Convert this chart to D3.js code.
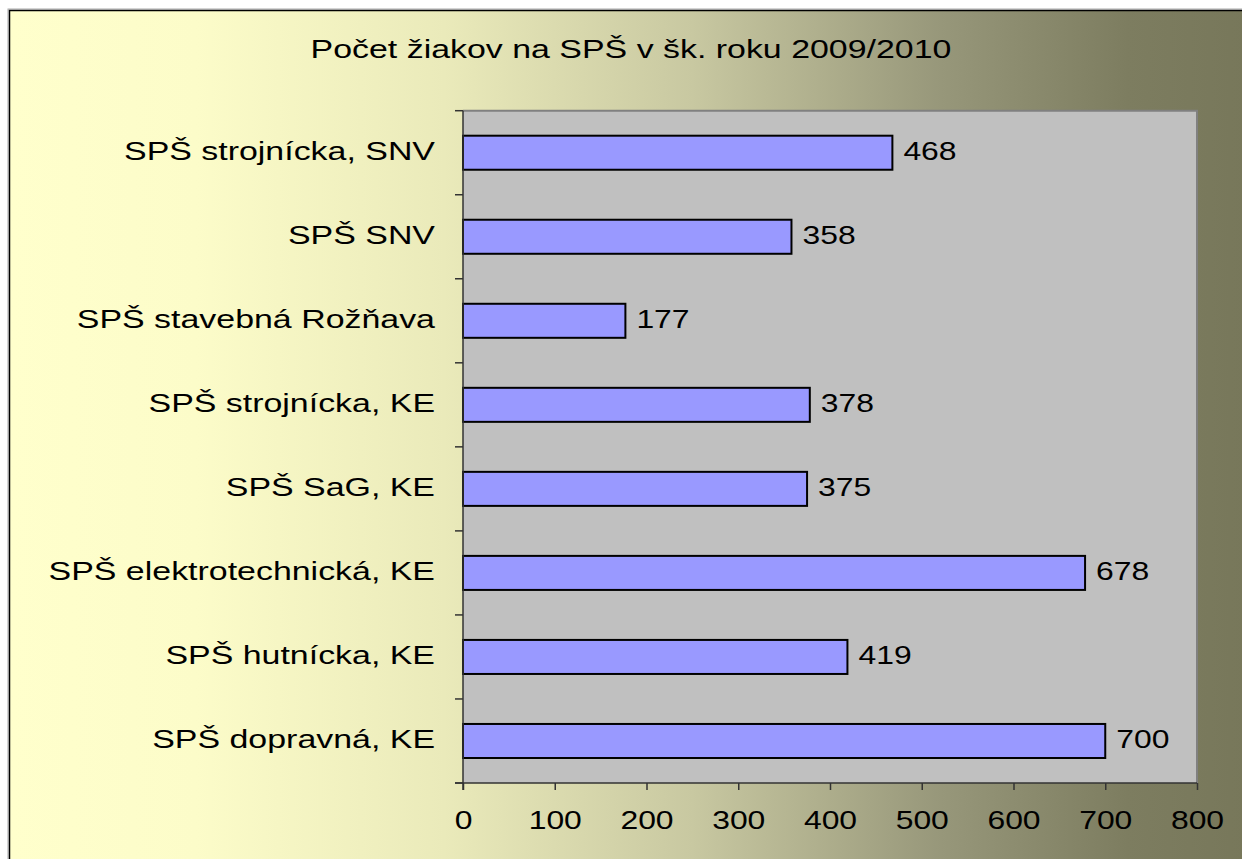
<!DOCTYPE html>
<html>

<head>
    <meta charset="utf-8">
    <style>
        body {
            margin: 0;
            background: #fff;
        }

        svg {
            display: block;
            font-family: 'Liberation Sans', Arial, sans-serif;
        }
    </style>
</head>

<body>
    <svg width="1242" height="859"></svg>

    <script src="https://d3js.org/d3.v7.min.js"></script>
    <script>
        // data (top to bottom)
        let schools = [
            "SPŠ strojnícka, SNV",
            "SPŠ SNV",
            "SPŠ stavebná Rožňava",
            "SPŠ strojnícka, KE",
            "SPŠ SaG, KE",
            "SPŠ elektrotechnická, KE",
            "SPŠ hutnícka, KE",
            "SPŠ dopravná, KE"
        ]
        let pupils = [468, 358, 177, 378, 375, 678, 419, 700]
        let xTicks = [0, 100, 200, 300, 400, 500, 600, 700, 800]
        let title = "Počet žiakov na SPŠ v šk. roku 2009/2010"

        let width = 1242;
        let height = 859;

        let plot = { left: 463, right: 1197, top: 110.7, bottom: 783 }
        let fontSize = 25.5
        let stretch = 1.33    // the original text is drawn wider than normal
        let numStretch = 1.25

        let svg = d3.select("svg")

        // background gradient
        let defs = svg.append("defs")
        let grad = defs.append("linearGradient")
            .attr("id", "bg")
            .attr("x1", "0%").attr("x2", "100%")
            .attr("y1", "0%").attr("y2", "0%")

        let stops = [
            [0, "#FFFFCC"],
            [0.15, "#FCFCC9"],
            [0.35, "#EAEABA"],
            [0.55, "#C8C8A1"],
            [0.75, "#97977A"],
            [0.9, "#7D7D60"],
            [1, "#77775A"]
        ]
        grad.selectAll("stop")
            .data(stops)
            .join("stop")
            .attr("offset", d => d[0])
            .attr("stop-color", d => d[1])

        svg.append("rect")
            .attr("x", 8).attr("y", 9)
            .attr("width", width).attr("height", height)
            .style("fill", "none")
            .style("stroke", "#aaa")
            .style("stroke-width", 1)

        svg.append("rect")
            .attr("x", 9.5).attr("y", 10.5)
            .attr("width", width).attr("height", height)
            .style("fill", "url(#bg)")
            .style("stroke", "#000")
            .style("stroke-width", 1.5)

        // scales
        let x = d3.scaleLinear()
            .domain([0, 800])
            .range([plot.left, plot.right])

        let y = d3.scaleBand()
            .domain(schools)
            .range([plot.top, plot.bottom])

        let barH = y.bandwidth() * 0.405

        // plot area
        svg.append("rect")
            .attr("x", plot.left)
            .attr("y", plot.top)
            .attr("width", plot.right - plot.left)
            .attr("height", plot.bottom - plot.top)
            .style("fill", "#C0C0C0")

        // gray border top + right
        svg.append("path")
            .attr("d", `M${plot.left},${plot.top}H${plot.right}V${plot.bottom}`)
            .style("fill", "none")
            .style("stroke", "#808080")
            .style("stroke-width", 2)

        // bars
        svg.selectAll(".bar")
            .data(pupils)
            .join("rect")
            .attr("class", "bar")
            .attr("x", x(0))
            .attr("y", (d, i) => y(schools[i]) + (y.bandwidth() - barH) / 2)
            .attr("width", d => x(d) - x(0))
            .attr("height", barH)
            .style("fill", "#9999FF")
            .style("stroke", "#000")
            .style("stroke-width", 2)

        // value labels
        svg.selectAll(".val")
            .data(pupils)
            .join("text")
            .attr("class", "val")
            .attr("transform", (d, i) => `translate(${x(d) + 11},${y(schools[i]) + y.bandwidth() / 2 + 7}) scale(${numStretch},1)`)
            .style("font-size", fontSize + "px")
            .style("fill", "#000")
            .text(d => d)

        // axes
        let xAxis = svg.append("g")
            .attr("transform", `translate(0,${plot.bottom})`)
            .call(d3.axisBottom(x).tickValues(xTicks).tickSize(7).tickFormat(d3.format("d")))

        let yAxis = svg.append("g")
            .attr("transform", `translate(${plot.left},0)`)
            .call(d3.axisLeft(y).tickSize(0).tickFormat(""))

        // y ticks sit between the categories
        let bounds = schools.map(s => y(s)).concat([plot.bottom])
        svg.selectAll(".ytick")
            .data(bounds)
            .join("line")
            .attr("class", "ytick")
            .attr("x1", plot.left - 8)
            .attr("x2", plot.left)
            .attr("y1", d => d)
            .attr("y2", d => d)
            .style("stroke", "#333")
            .style("stroke-width", 1.5)

        xAxis.select(".domain")
            .attr("d", `M${plot.left - 8},0H${plot.right}`)
            .style("stroke", "#333")
            .style("stroke-width", 1.5)
        xAxis.selectAll(".tick line")
            .style("stroke", "#333")
            .style("stroke-width", 1.5)
        xAxis.selectAll(".tick text")
            .attr("y", 0)
            .attr("dy", 0)
            .attr("transform", `translate(0,46) scale(${numStretch},1)`)
            .style("font-size", fontSize + "px")
            .style("font-family", "'Liberation Sans', Arial, sans-serif")
            .style("fill", "#000")

        yAxis.select(".domain")
            .attr("d", `M0,${plot.top}V${plot.bottom + 7}`)
            .style("stroke", "#333")
            .style("stroke-width", 1.5)

        // category labels
        svg.selectAll(".cat")
            .data(schools)
            .join("text")
            .attr("class", "cat")
            .attr("text-anchor", "end")
            .attr("transform", d => `translate(435,${y(d) + y.bandwidth() / 2 + 7.5}) scale(${stretch},1)`)
            .style("font-size", fontSize + "px")
            .style("fill", "#000")
            .text(d => d)

        // title
        svg.append("text")
            .attr("text-anchor", "middle")
            .attr("transform", `translate(631,58) scale(${stretch},1)`)
            .style("font-size", fontSize + "px")
            .style("fill", "#000")
            .text(title)

    </script>
</body>

</html>
